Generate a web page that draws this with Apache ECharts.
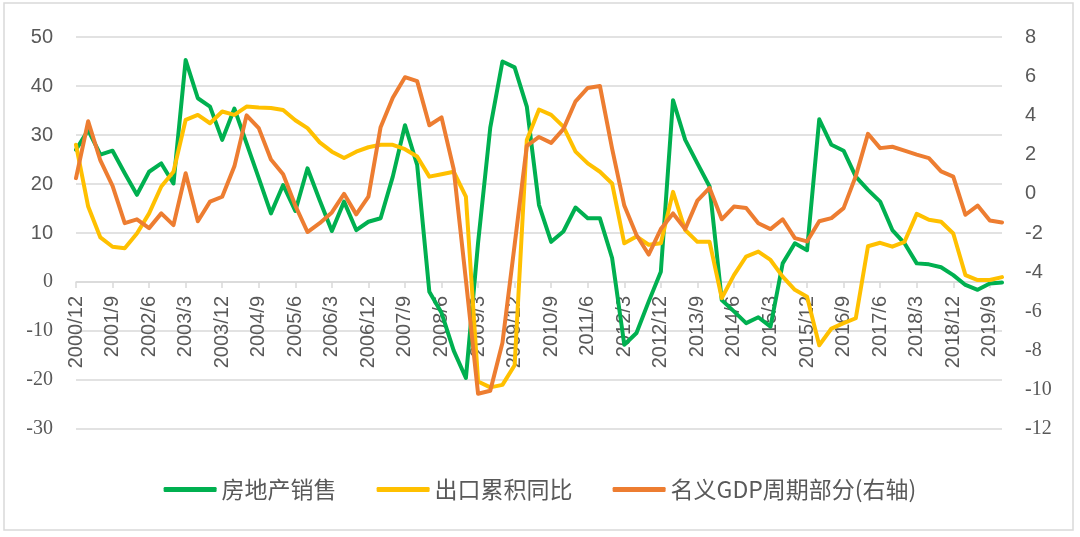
<!DOCTYPE html>
<html>
<head>
<meta charset="utf-8">
<script src="https://cdn.jsdelivr.net/npm/echarts@6/dist/echarts.min.js"></script>
<style>
html,body{margin:0;padding:0;background:#fff;}
#chart{width:1080px;height:537px;}
</style>
</head>
<body>
<div id="chart"></div>
<script>
const categories = [
 '2000/12',
 '2001/3','2001/6','2001/9','2001/12',
 '2002/3','2002/6','2002/9','2002/12',
 '2003/3','2003/6','2003/9','2003/12',
 '2004/3','2004/6','2004/9','2004/12',
 '2005/3','2005/6','2005/9','2005/12',
 '2006/3','2006/6','2006/9','2006/12',
 '2007/3','2007/6','2007/9','2007/12',
 '2008/3','2008/6','2008/9','2008/12',
 '2009/3','2009/6','2009/9','2009/12',
 '2010/3','2010/6','2010/9','2010/12',
 '2011/3','2011/6','2011/9','2011/12',
 '2012/3','2012/6','2012/9','2012/12',
 '2013/3','2013/6','2013/9','2013/12',
 '2014/3','2014/6','2014/9','2014/12',
 '2015/3','2015/6','2015/9','2015/12',
 '2016/3','2016/6','2016/9','2016/12',
 '2017/3','2017/6','2017/9','2017/12',
 '2018/3','2018/6','2018/9','2018/12',
 '2019/3','2019/6','2019/9','2019/12'
];

const seriesNames = ['房地产销售', '出口累积同比', '名义GDP周期部分(右轴)'];

// 房地产销售 (left axis)
const realEstateSales = [
 27, 31, 26, 26.8, 22.2, 17.8, 22.5, 24.2, 20.1, 45.3,
 37.5, 35.8, 29, 35.4, 28.3, 21.2, 14, 19.8, 14.5, 23.2,
 16.7, 10.4, 16.4, 10.6, 12.3, 13, 21.5, 32, 23.9, -2,
 -6.3, -14, -19.6, 8, 31.5, 45, 43.8, 35.8, 15.7, 8.2,
 10.3, 15.2, 13, 13, 4.9, -12.8, -10.4, -4, 2.1, 37.1,
 29, 24.2, 19.5, -3.7, -6, -8.4, -7.2, -9.1, 3.8, 7.9,
 6.5, 33.2, 28, 26.8, 21.5, 18.8, 16.4, 10.6, 7.9, 3.8,
 3.6, 3, 1.4, -0.6, -1.6, -0.3, -0.1
];

// 出口累积同比 (left axis)
const exportsYoY = [
 28, 15.4, 9.1, 7.2, 6.9, 9.9, 14, 19.5, 22.5, 33.1,
 34.1, 32.4, 34.8, 34.1, 35.8, 35.6, 35.5, 35.1, 33, 31.4,
 28.5, 26.6, 25.3, 26.6, 27.5, 28, 28, 27.1, 25.6, 21.5,
 22, 22.5, 17.4, -20.3, -21.5, -21, -17, 29, 35.2, 34.1,
 31.7, 26.6, 24.2, 22.5, 20.1, 7.9, 9.3, 7.6, 7.9, 18.4,
 10.6, 8.2, 8.2, -3.3, 1.4, 5.2, 6.2, 4.5, 1.1, -1.6,
 -3, -12.9, -9.5, -8.4, -7.4, 7.3, 8, 7.2, 8.2, 13.9,
 12.7, 12.3, 9.9, 1.4, 0.4, 0.4, 1
];

// 名义GDP周期部分 (right axis)
const nominalGdpCycle = [
 0.8, 3.7, 1.7, 0.4, -1.5, -1.3, -1.75, -1, -1.6, 1.05,
 -1.4, -0.4, -0.15, 1.4, 4.0, 3.35, 1.75, 1.0, -0.6, -1.95,
 -1.5, -0.95, 0, -1.05, -0.14, 3.4, 4.9, 5.95, 5.75, 3.5,
 3.9, 1.25, -4.4, -10.2, -10.05, -7.6, -2.6, 2.45, 2.9, 2.6,
 3.3, 4.72, 5.4, 5.5, 2.3, -0.6, -2.1, -3.1, -1.8, -1,
 -1.8, -0.35, 0.3, -1.3, -0.65, -0.73, -1.5, -1.8, -1.3, -2.26,
 -2.43, -1.4, -1.24, -0.73, 0.9, 3.06, 2.33, 2.4, 2.2, 2,
 1.82, 1.14, 0.88, -1.07, -0.6, -1.36, -1.46
];

const leftTicks = { min: -30, max: 50, interval: 10 };
const rightTicks = { min: -12, max: 8, interval: 2 };

const colors = ['#00B050', '#FFC000', '#ED7D31'];
const textColor = '#595959';
const gridColor = '#D9D9D9';
const sans = '"Liberation Sans", Arial, sans-serif';
const serif = '"Liberation Serif", "Times New Roman", serif';

const GRID_TOP = 37, GRID_BOTTOM = 108, CHART_H = 537;

const chart = echarts.init(document.getElementById('chart'), null, { renderer: 'canvas' });

// the category axis sits on the left axis' zero line: shift it up from the grid bottom
const plotH = CHART_H - GRID_TOP - GRID_BOTTOM;
const zeroOffset = -plotH * (0 - leftTicks.min) / (leftTicks.max - leftTicks.min);

const option = {
  backgroundColor: '#fff',
  animation: false,
  graphic: [{
    type: 'rect',
    shape: { x: 4, y: 3, width: 1069, height: 527 },
    style: { fill: 'none', stroke: gridColor, lineWidth: 1.5 },
    silent: true
  }],
  grid: { left: 76, right: 78, top: GRID_TOP, bottom: GRID_BOTTOM, containLabel: false },
  legend: {
    data: seriesNames.map(n => ({ name: n, icon: 'roundRect' })),
    left: 'center',
    top: 473,
    itemWidth: 53,
    itemHeight: 5,
    itemGap: 40,
    textStyle: { fontSize: 23, color: textColor, fontFamily: '"Noto Sans CJK SC", sans-serif' }
  },
  xAxis: {
    type: 'category',
    data: categories,
    boundaryGap: false,
    offset: zeroOffset,
    axisLine: { onZero: false, lineStyle: { color: gridColor, width: 1.5 } },
    axisTick: { show: true, interval: 2, length: 6, lineStyle: { color: gridColor, width: 1.5 } },
    axisLabel: { interval: 2, rotate: 90, fontSize: 20, color: textColor, margin: 14, fontFamily: sans },
    splitLine: { show: false }
  },
  yAxis: [{
    type: 'value',
    min: leftTicks.min, max: leftTicks.max, interval: leftTicks.interval,
    axisLine: { show: false },
    axisTick: { show: false },
    splitLine: { show: true, lineStyle: { color: gridColor, width: 1.5 } },
    axisLabel: {
      fontSize: 20, color: textColor, margin: 23, fontFamily: sans,
      formatter: v => v <= 0 ? '{s|' + v + '}' : String(v),
      rich: { s: { fontSize: 20, color: textColor, fontFamily: serif } }
    }
  }, {
    type: 'value',
    position: 'right',
    min: rightTicks.min, max: rightTicks.max, interval: rightTicks.interval,
    axisLine: { show: false },
    axisTick: { show: false },
    splitLine: { show: false },
    axisLabel: {
      fontSize: 20, color: textColor, margin: 23, fontFamily: sans,
      formatter: v => v <= -6 ? '{s|' + v + '}' : String(v),
      rich: { s: { fontSize: 20, color: textColor, fontFamily: serif } }
    }
  }],
  series: [
    { name: seriesNames[0], type: 'line', yAxisIndex: 0, data: realEstateSales },
    { name: seriesNames[1], type: 'line', yAxisIndex: 0, data: exportsYoY },
    { name: seriesNames[2], type: 'line', yAxisIndex: 1, data: nominalGdpCycle }
  ].map((s, i) => Object.assign(s, {
    symbol: 'none', showSymbol: false,
    color: colors[i],
    lineStyle: { width: 4, color: colors[i], cap: 'round', join: 'round' }
  }))
};

chart.setOption(option);
</script>
</body>
</html>
